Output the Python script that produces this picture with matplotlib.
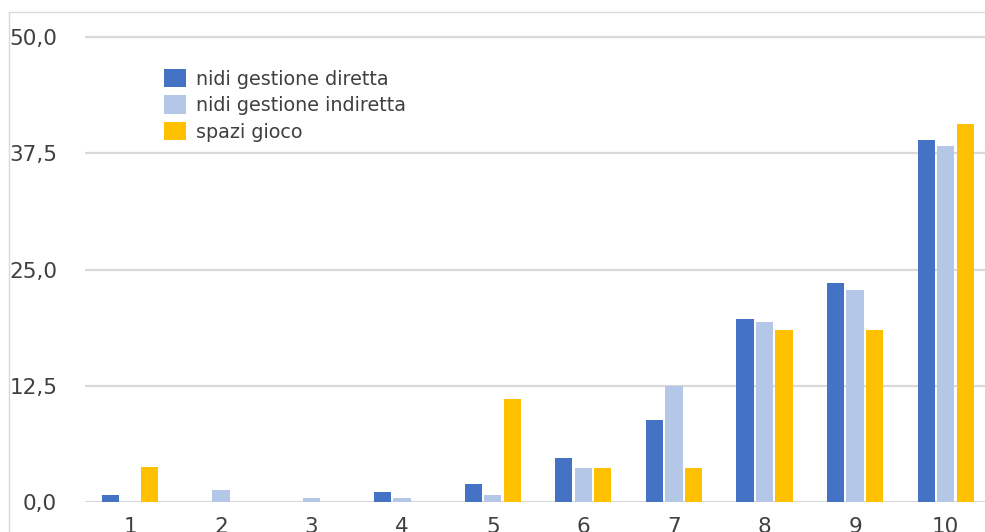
import matplotlib.pyplot as plt
import numpy as np
from matplotlib.patches import Rectangle

categories = ['1', '2', '3', '4', '5', '6', '7', '8', '9', '10']
diretta = [0.7, 0.0, 0.0, 1.0, 1.9, 4.7, 8.8, 19.7, 23.6, 38.9]
indiretta = [0.0, 1.3, 0.4, 0.4, 0.7, 3.6, 12.5, 19.4, 22.8, 38.3]
spazi = [3.7, 0.0, 0.0, 0.0, 11.1, 3.6, 3.6, 18.5, 18.5, 40.7]
yticks = [0.0, 12.5, 25.0, 37.5, 50.0]

series = [
    ('nidi gestione diretta', diretta, '#4472c4'),
    ('nidi gestione indiretta', indiretta, '#b4c7e7'),
    ('spazi gioco', spazi, '#ffc000'),
]

fig = plt.figure(figsize=(9.85, 5.32), dpi=100)
W, H = 985, 532
px_per_unit = 464.4 / 50
ytop = 50.3
ax = fig.add_axes([85 / W, (H - 501.7) / H, (991 - 85) / W, ytop * px_per_unit / H])

x = np.arange(len(categories))
width = 0.19
step = 0.215
for i, (name, vals, col) in enumerate(series):
    ax.bar(x + (i - 1) * step, vals, width, color=col, label=name, zorder=3)

ax.set_xlim(-0.5, len(categories) - 0.5)
ax.set_ylim(0, ytop)
ax.set_yticks(yticks)
ax.set_yticklabels([f'{v:.1f}'.replace('.', ',') for v in yticks])
ax.set_xticks(x)
ax.set_xticklabels(categories)
ax.yaxis.grid(True, color='#d9d9d9', linewidth=1.6, zorder=0)
ax.tick_params(axis='both', length=0, labelsize=15.5, labelcolor='#404040')
ax.tick_params(axis='y', pad=20)
ax.tick_params(axis='x', pad=11)
for s in ax.spines.values():
    s.set_visible(False)
ax.set_axisbelow(True)

ax.legend(loc='upper left', bbox_to_anchor=(71 / 906, 0.943), frameon=False,
          fontsize=13.8, handlelength=1.15, handleheight=1.1, handletextpad=0.55,
          labelspacing=0.36, labelcolor='#404040', borderaxespad=0)

fig.patches.append(Rectangle((9 / W, -0.1), 1.2, (H - 12) / H + 0.1,
                             transform=fig.transFigure, fill=False,
                             edgecolor='#d9d9d9', linewidth=1.0))

plt.savefig('out.png', dpi=100)
